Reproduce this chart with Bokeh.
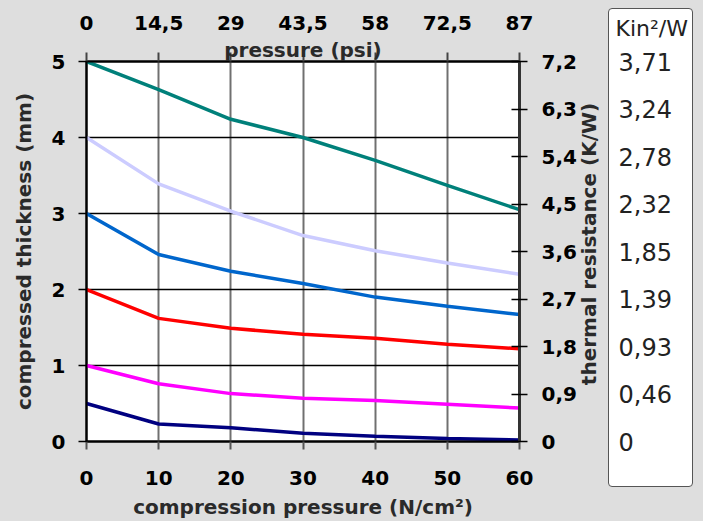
import math
from bokeh.plotting import figure
from bokeh.models import Range1d, LinearAxis, FixedTicker, Label
from bokeh.embed import file_html
from bokeh.resources import INLINE

# ---- data ----
pressure_ncm2 = [0, 10, 20, 30, 40, 50, 60]
teal_series = [5.0, 4.63, 4.24, 4.0, 3.70, 3.37, 3.05]
lavender_series = [4.0, 3.39, 3.03, 2.71, 2.51, 2.35, 2.20]
blue_series = [3.0, 2.46, 2.24, 2.08, 1.90, 1.78, 1.67]
red_series = [2.0, 1.62, 1.49, 1.41, 1.36, 1.28, 1.22]
magenta_series = [1.0, 0.76, 0.63, 0.57, 0.54, 0.49, 0.44]
navy_series = [0.5, 0.23, 0.18, 0.11, 0.07, 0.04, 0.02]

x_ticks = [0, 10, 20, 30, 40, 50, 60]
y_ticks = [0, 1, 2, 3, 4, 5]
psi_ticks = [0, 14.5, 29, 43.5, 58, 72.5, 87]
psi_labels = ["0", "14,5", "29", "43,5", "58", "72,5", "87"]
kw_ticks = [0, 0.9, 1.8, 2.7, 3.6, 4.5, 5.4, 6.3, 7.2]
kw_labels = ["0", "0,9", "1,8", "2,7", "3,6", "4,5", "5,4", "6,3", "7,2"]
kin_labels = ["0", "0,46", "0,93", "1,39", "1,85", "2,32", "2,78", "3,24", "3,71"]
kin_header = "Kin²/W"

series = [
    (teal_series, "#00807a"),
    (lavender_series, "#ccccff"),
    (blue_series, "#0066cc"),
    (red_series, "#ff0000"),
    (magenta_series, "#ff00ff"),
    (navy_series, "#000080"),
]

BG = "#dedede"
FONT = "DejaVu Sans"

p = figure(width=687, height=513, output_backend="svg", toolbar_location=None,
           x_range=Range1d(0, 60), y_range=Range1d(0, 5),
           min_border_left=78, min_border_right=176, min_border_top=53, min_border_bottom=79)
p.background_fill_color = "white"
p.border_fill_color = BG
p.border_fill_alpha = 0.0   # page background (same grey) shows through
p.outline_line_color = "black"
p.outline_line_width = 2

p.extra_x_ranges = {"psi": Range1d(0, 87)}
p.extra_y_ranges = {"kw": Range1d(0, 7.2)}

for ys, c in series:
    p.line(pressure_ncm2, ys, line_color=c, line_width=3.5)

p.xgrid.ticker = FixedTicker(ticks=x_ticks)
p.xgrid.grid_line_color = "#707070"
p.xgrid.grid_line_width = 2
p.ygrid.ticker = FixedTicker(ticks=y_ticks)
p.ygrid.grid_line_color = "black"
p.ygrid.grid_line_width = 1.5

def style_axis(ax):
    ax.major_label_text_font = FONT
    ax.major_label_text_font_style = "bold"
    ax.major_label_text_font_size = "20px"
    ax.major_label_text_color = "black"
    ax.axis_label_text_font = FONT
    ax.axis_label_text_font_style = "bold"
    ax.axis_label_text_font_size = "20px"
    ax.axis_label_text_color = "#2a2a2a"
    ax.minor_tick_line_color = None

xa = p.xaxis[0]
style_axis(xa)
xa.ticker = FixedTicker(ticks=x_ticks)
xa.axis_label = "compression pressure (N/cm²)"
xa.major_tick_out = 8
xa.major_tick_in = 0
xa.major_tick_line_color = "#555555"
xa.major_tick_line_width = 2
xa.axis_line_color = "black"
xa.axis_line_width = 2
xa.major_label_standoff = 21
xa.axis_label_standoff = 7

ya = p.yaxis[0]
style_axis(ya)
ya.ticker = FixedTicker(ticks=y_ticks)
ya.axis_label = "compressed thickness (mm)"
ya.major_tick_out = 8
ya.major_tick_in = 0
ya.major_tick_line_color = "black"
ya.major_tick_line_width = 1.5
ya.axis_line_color = "black"
ya.axis_line_width = 2
ya.major_label_standoff = 13
ya.axis_label_standoff = 13

# right axis (K/W)
ra = LinearAxis(y_range_name="kw", ticker=FixedTicker(ticks=kw_ticks),
                major_label_overrides={t: l for t, l in zip(kw_ticks, kw_labels)})
style_axis(ra)
ra.major_tick_out = 8
ra.major_tick_in = 8
ra.major_tick_line_color = "black"
ra.major_tick_line_width = 1.5
ra.axis_line_color = "#333333"
ra.axis_line_width = 3
ra.major_label_standoff = 14
p.add_layout(ra, "right")

# right axis title, reading upward
p.add_layout(Label(x=580.5, y=235.5, x_units="canvas", y_units="canvas",
                   text="thermal resistance (K/W)", angle=math.pi / 2,
                   text_align="center", text_baseline="middle",
                   text_font=FONT, text_font_style="bold", text_font_size="20px",
                   text_color="#2a2a2a"), "right")

# header of the conversion column
p.add_layout(Label(x=607, y=20, x_units="canvas", y_units="canvas",
                   text=kin_header, text_align="left", text_baseline="middle",
                   text_font=FONT, text_font_size="22px", text_color="#222222"), "right")

# conversion column (Kin²/W) on the same K/W scale
ka = LinearAxis(y_range_name="kw", ticker=FixedTicker(ticks=kw_ticks),
                major_label_overrides={t: l for t, l in zip(kw_ticks, kin_labels)})
ka.major_label_text_font = FONT
ka.major_label_text_font_size = "24px"
ka.major_label_text_color = "#222222"
ka.major_tick_line_color = None
ka.minor_tick_line_color = None
ka.axis_line_color = None
ka.major_label_standoff = -63
p.add_layout(ka, "right")

# top axis A: ticks + axis label
ta = LinearAxis(x_range_name="psi", ticker=FixedTicker(ticks=psi_ticks),
                major_label_overrides={t: "" for t in psi_ticks})
style_axis(ta)
ta.axis_label = "pressure (psi)"
ta.major_label_text_font_size = "1px"
ta.major_label_standoff = 0
ta.major_tick_out = 9
ta.major_tick_in = 0
ta.major_tick_line_color = "#444444"
ta.major_tick_line_width = 2
ta.axis_line_color = "black"
ta.axis_line_width = 2
ta.axis_label_standoff = -9
p.add_layout(ta, "above")

# top axis B: tick labels only
tb = LinearAxis(x_range_name="psi", ticker=FixedTicker(ticks=psi_ticks),
                major_label_overrides={t: l for t, l in zip(psi_ticks, psi_labels)})
style_axis(tb)
tb.major_tick_out = 0
tb.major_tick_in = 0
tb.axis_line_color = None
tb.major_tick_line_color = None
tb.major_label_standoff = 5
p.add_layout(tb, "above")

html = file_html(p, INLINE)
css = ("<style>html{background:#dedede;overflow:hidden;}"
       "body{margin:8px 8px 0 8px;background:transparent;overflow:hidden;}"
       "body::before{content:'';position:absolute;left:608px;top:8px;width:85px;height:479px;"
       "box-sizing:border-box;background:#ffffff;border:1.5px solid #555555;border-radius:4px;z-index:-1;}"
       "</style></head>")
html = html.replace("</head>", css, 1)
open("out.html", "w").write(html)
